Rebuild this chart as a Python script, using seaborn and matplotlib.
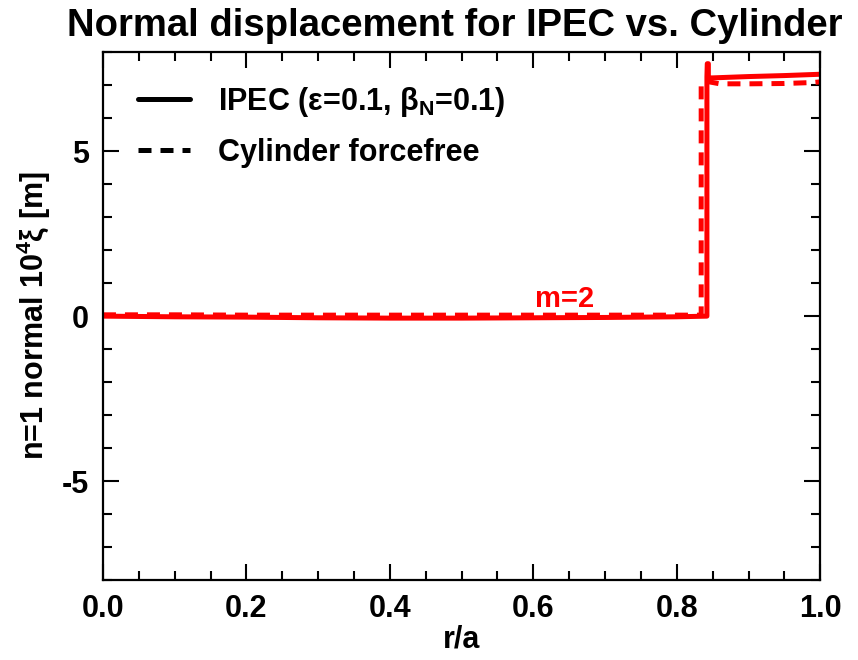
import pandas as pd
import matplotlib
matplotlib.use("Agg")
import matplotlib.pyplot as plt
import seaborn as sns
from matplotlib.lines import Line2D
from matplotlib.ticker import MultipleLocator

# Radial position r/a and normal displacement (x 1e4 m)
r_ipec = [0.0, 0.1, 0.2, 0.3, 0.4, 0.5, 0.6, 0.7, 0.8, 0.842, 0.842, 0.8425, 0.844, 0.844, 0.85, 0.9, 0.95, 1.0]
xi_ipec = [0.0, -0.02, -0.03, -0.05, -0.06, -0.06, -0.05, -0.04, -0.02, 0.0, 7.25, 7.65, 7.65, 7.22, 7.22, 7.26, 7.29, 7.33]

r_cyl = [0.0, 0.1, 0.2, 0.3, 0.4, 0.5, 0.6, 0.7, 0.8, 0.834, 0.834, 0.845, 0.86, 0.9, 0.95, 0.99, 1.0]
xi_cyl = [0.04, 0.04, 0.03, 0.03, 0.03, 0.03, 0.03, 0.03, 0.03, 0.03, 7.1, 7.1, 7.04, 7.04, 7.05, 7.08, 7.1]

labels = ["IPEC (ε=0.1, β$_\\mathrm{N}$=0.1)", "Cylinder forcefree"]

ipec = pd.DataFrame({"r": r_ipec, "xi": xi_ipec})
cyl = pd.DataFrame({"r": r_cyl, "xi": xi_cyl})

sns.set_theme(style="ticks")
plt.rcParams["font.family"] = ["Liberation Sans", "DejaVu Sans"]
plt.rcParams["font.weight"] = "bold"
plt.rcParams["axes.labelweight"] = "bold"
plt.rcParams["mathtext.fontset"] = "custom"
plt.rcParams["mathtext.rm"] = "Liberation Sans:bold"
plt.rcParams["mathtext.it"] = "Liberation Sans:bold"
plt.rcParams["mathtext.bf"] = "Liberation Sans:bold"
plt.rcParams["axes.unicode_minus"] = False
for key in ["text.color", "axes.labelcolor", "xtick.color", "ytick.color", "axes.edgecolor"]:
    plt.rcParams[key] = "black"

dash = (0, (2.6, 1.8))

fig = plt.figure(figsize=(8.58, 6.6), dpi=100)
ax = fig.add_axes([0.120, 0.121, 0.836, 0.800])

sns.lineplot(data=ipec, x="r", y="xi", sort=False, estimator=None, color="red", lw=3.6, ax=ax)
sns.lineplot(data=cyl, x="r", y="xi", sort=False, estimator=None, color="red", lw=3.6,
             linestyle=dash, ax=ax)

ax.text(0.643, 0.27, "m=2", color="red", fontsize=21, fontweight="bold", ha="center", va="baseline")

ax.set_xlim(0, 1)
ax.set_ylim(-8, 8)
ax.xaxis.set_major_locator(MultipleLocator(0.2))
ax.xaxis.set_minor_locator(MultipleLocator(0.05))
ax.yaxis.set_major_locator(MultipleLocator(5))
ax.yaxis.set_minor_locator(MultipleLocator(1))
ax.xaxis.set_major_formatter(plt.FuncFormatter(lambda v, p: f"{v:.1f}"))
ax.tick_params(which="both", direction="in", top=True, right=True, width=1.5, labelsize=22, pad=10)
ax.tick_params(which="major", length=11.5)
ax.tick_params(which="minor", length=6.5)
for s in ax.spines.values():
    s.set_linewidth(1.6)
    s.set_visible(True)

ax.set_xlabel("r/a", fontsize=22, labelpad=0)
ax.set_ylabel("n=1 normal 10$^4$$\\xi$ [m]", fontsize=22, labelpad=6)
fig.text(0.530, 0.945, "Normal displacement for IPEC vs. Cylinder", fontsize=27.5,
         fontweight="bold", ha="center", va="baseline")

handles = [Line2D([], [], color="black", lw=3.6),
           Line2D([], [], color="black", lw=3.6, linestyle=dash)]
ax.legend(handles, labels, loc="upper left", bbox_to_anchor=(0.011, 0.99), frameon=False,
          fontsize=22, handlelength=1.7, handletextpad=0.9, labelspacing=0.61)

plt.savefig("out.png", dpi=100)
plt.close()
